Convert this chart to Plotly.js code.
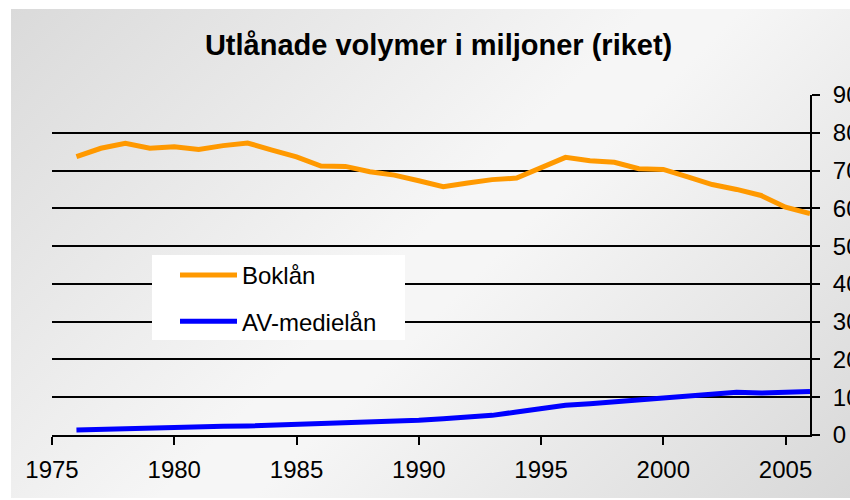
<!DOCTYPE html>
<html>
<head>
<meta charset="utf-8">
<script src="https://cdn.plot.ly/plotly-3.0.1.min.js"></script>
<style>
  html, body { margin: 0; padding: 0; background: #ffffff; }
  #wrap { position: relative; width: 850px; height: 500px; overflow: hidden; }
  #bg { position: absolute; left: 11px; top: 9px; width: 839px; height: 489px;
        background: linear-gradient(135deg, #dadada 0%, #f6f6f6 48%, #f6f6f6 55%, #d8d8d8 100%); }
  #chart { position: absolute; left: 0; top: 0; width: 850px; height: 500px; }
</style>
</head>
<body>
<div id="wrap"><div id="bg"></div><div id="chart"></div></div>
<script>
const years = [1976,1977,1978,1979,1980,1981,1982,1983,1984,1985,1986,1987,1988,1989,1990,
               1991,1992,1993,1994,1995,1996,1997,1998,1999,2000,2001,2002,2003,2004,2005,2006];
const boklan = [73.7,75.9,77.2,75.9,76.3,75.6,76.6,77.3,75.4,73.6,71.2,71.1,69.7,68.8,67.3,
                65.7,66.7,67.6,68.0,70.6,73.5,72.6,72.2,70.5,70.3,68.3,66.3,65.0,63.4,60.3,58.6];
const avmedia = [1.3,1.5,1.8,1.9,2.1,2.2,2.3,2.4,2.6,2.7,2.8,3.0,3.3,3.5,3.9,
                 4.3,4.7,5.2,6.1,7.1,7.9,8.3,8.8,9.3,9.8,10.4,11.0,11.3,11.1,11.2,11.5];
const seriesNames = ['Boklån', 'AV-medielån'];
const xTicks = [1975,1980,1985,1990,1995,2000,2005];
const yTicks = [0,10,20,30,40,50,60,70,80,90];

const FONT = 'Arial, "Liberation Sans", sans-serif';

const traces = [
  { x: years, y: boklan, name: seriesNames[0], type: 'scatter', mode: 'lines',
    line: { color: '#FF9900', width: 5 }, legendgroup: 'a' },
  { x: years, y: avmedia, name: seriesNames[1], type: 'scatter', mode: 'lines',
    line: { color: '#0000FF', width: 5 }, legendgroup: 'b' }
];

const layout = {
  width: 850, height: 500,
  paper_bgcolor: 'rgba(0,0,0,0)', plot_bgcolor: 'rgba(0,0,0,0)',
  margin: { l: 52, r: 40, t: 95, b: 65, pad: 0 },
  font: { family: FONT, color: '#000', size: 24 },
  title: { text: '<b>Utlånade volymer i miljoner (riket)</b>', x: 0.516, xanchor: 'center',
           y: 0.91, yanchor: 'middle', font: { size: 29, family: FONT, color: '#000' } },
  xaxis: { range: [1975, 2006], tickvals: xTicks, ticktext: xTicks.map(String),
           ticks: 'outside', ticklen: 8, tickwidth: 2, tickcolor: '#000',
           showline: true, linecolor: '#000', linewidth: 2, showgrid: false, zeroline: false,
           ticklabelstandoff: 4, tickfont: { size: 24 } },
  yaxis: { range: [0, 90], side: 'right', tickvals: yTicks, ticktext: yTicks.map(String),
           ticks: 'outside', ticklen: 8, tickwidth: 2, tickcolor: '#000',
           showline: true, linecolor: '#000', linewidth: 2,
           showgrid: true, gridcolor: '#000', gridwidth: 2, zeroline: false,
           ticklabelstandoff: 8, tickfont: { size: 24 } },
  shapes: [
    { type: 'rect', xref: 'paper', yref: 'paper', layer: 'above',
      x0: (152-52)/758, x1: (405-52)/758, y0: (435-340)/340, y1: (435-255)/340,
      fillcolor: '#ffffff', line: { width: 0 } }
  ],
  showlegend: true,
  legend: { x: (175-52)/758, xanchor: 'left', y: (435-253)/340, yanchor: 'top',
            bgcolor: 'rgba(0,0,0,0)', borderwidth: 0, font: { size: 24 },
            itemwidth: 57, tracegroupgap: 12, traceorder: 'grouped' }
};

Plotly.newPlot('chart', traces, layout, { displayModeBar: false, staticPlot: true });
</script>
</body>
</html>
